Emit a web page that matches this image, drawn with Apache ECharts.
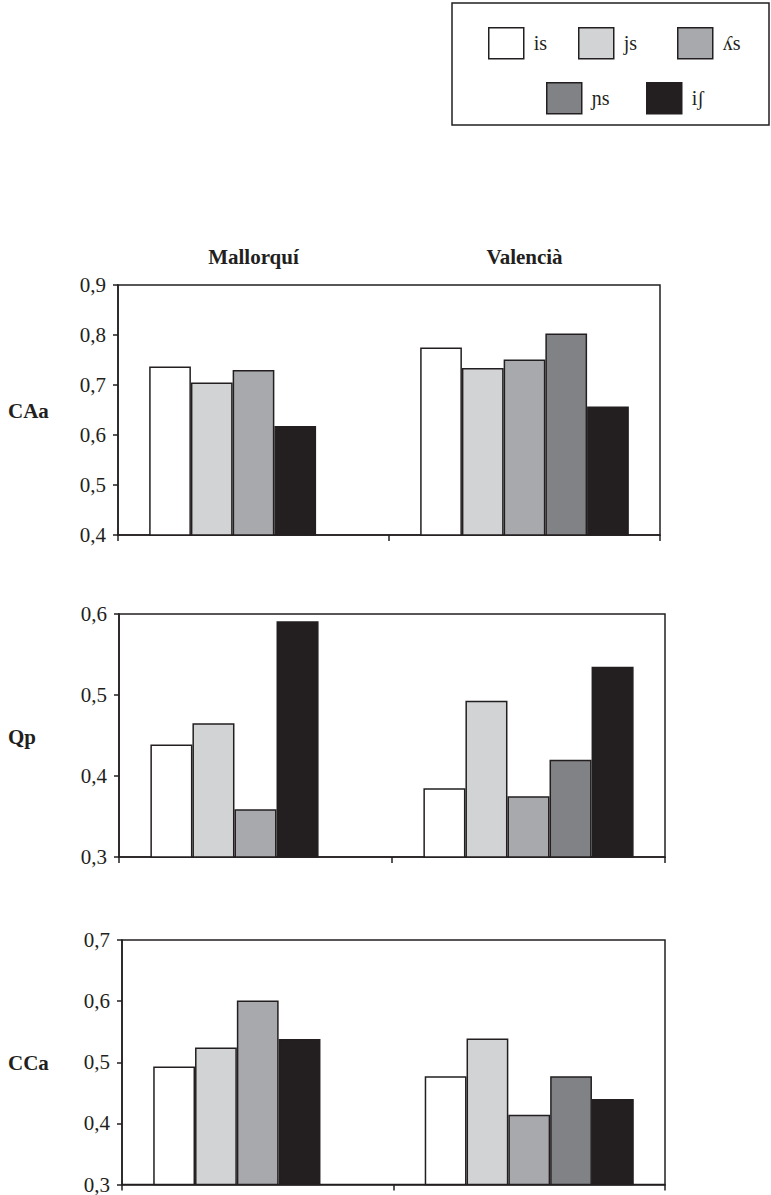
<!DOCTYPE html>
<html>
<head>
<meta charset="utf-8">
<script src="https://cdn.jsdelivr.net/npm/echarts@6/dist/echarts.min.js"></script>
<style>
  html, body { margin: 0; padding: 0; background: #ffffff; }
  #chart { width: 771px; height: 1195px; }
</style>
</head>
<body>
<div id="chart"></div>
<script>
// Dialects (x categories) and sibilant contexts (series)
const categories = ['Mallorquí', 'Valencià'];
const phonemes = ['is', 'js', 'ʎs', 'ɲs', 'iʃ'];
const fills = ['#ffffff', '#d1d3d4', '#a7a9ac', '#808285', '#231f20'];

// Panel names and y ranges
const panelNames = ['CAa', 'Qp', 'CCa'];
const yMins = [0.4, 0.3, 0.3];
const yMaxs = [0.9, 0.6, 0.7];

// Values per dialect, in phoneme order (null = no value)
const caaMallorqui = [0.737, 0.705, 0.730, null, 0.618];
const caaValencia  = [0.775, 0.734, 0.751, 0.803, 0.657];
const qpMallorqui  = [0.439, 0.465, 0.359, null, 0.591];
const qpValencia   = [0.385, 0.493, 0.375, 0.420, 0.535];
const ccaMallorqui = [0.493, 0.524, 0.601, null, 0.538];
const ccaValencia  = [0.477, 0.539, 0.414, 0.477, 0.440];

const panelValues = [
  [caaMallorqui, caaValencia],
  [qpMallorqui, qpValencia],
  [ccaMallorqui, ccaValencia]
];

const INK = '#231f20';
const FONT = 'Liberation Serif';

// Plot boxes for the three panels
const boxes = [
  { left: 118, top: 285, width: 542, height: 250 },
  { left: 119, top: 614, width: 546, height: 243 },
  { left: 122, top: 940, width: 543, height: 246 }
];

const grids = boxes.map(b => ({
  left: b.left, top: b.top, width: b.width, height: b.height,
  show: true, borderColor: INK, borderWidth: 1.5, backgroundColor: 'transparent'
}));

const xAxes = boxes.map((b, i) => ({
  type: 'category', gridIndex: i, data: categories, position: 'bottom',
  axisLine: { show: true, lineStyle: { color: INK, width: 1.5 } },
  axisTick: { show: true, length: 6, lineStyle: { color: INK, width: 1.5 } },
  axisLabel: { show: false }
}));
// dialect names above the first panel
xAxes.push({
  type: 'category', gridIndex: 0, data: categories, position: 'top',
  axisLine: { show: false }, axisTick: { show: false },
  axisLabel: { show: true, margin: 18, fontFamily: FONT, fontSize: 21, fontWeight: 'bold', color: INK }
});

const yAxes = boxes.map((b, i) => ({
  type: 'value', gridIndex: i, min: yMins[i], max: yMaxs[i], interval: 0.1,
  splitLine: { show: false },
  axisLine: { show: true, lineStyle: { color: INK, width: 1.5 } },
  axisTick: { show: true, length: 5, lineStyle: { color: INK, width: 1.5 } },
  axisLabel: {
    margin: 12, fontFamily: FONT, fontSize: 21, color: INK,
    formatter: v => v.toFixed(1).replace('.', ',')
  }
}));

// Bars are packed into consecutive slots per dialect; a missing value leaves the last slot empty
const series = [];
panelValues.forEach((pair, p) => {
  const packed = pair.map(vals => vals.map((v, k) => (v == null ? -1 : k)).filter(k => k >= 0));
  phonemes.forEach((name, slot) => {
    series.push({
      name: name,
      type: 'bar',
      xAxisIndex: p,
      yAxisIndex: p,
      barGap: '0%',
      barCategoryGap: '23%',
      itemStyle: { color: fills[slot], borderColor: INK, borderWidth: 1.5 },
      emphasis: { disabled: true },
      data: pair.map((vals, c) => {
        const k = packed[c][slot];
        if (k === undefined) return null;
        return { value: vals[k], itemStyle: { color: fills[k] } };
      })
    });
  });
});

// Legend: two rows inside a framed box
const legendSpots = [
  { left: 488, top: 27 }, { left: 578, top: 27 }, { left: 677, top: 27 },
  { left: 546, top: 82 }, { left: 646, top: 82 }
];
const legends = phonemes.map((name, i) => ({
  data: [name],
  left: legendSpots[i].left, top: legendSpots[i].top,
  padding: 0, itemWidth: 35, itemHeight: 31, icon: 'rect',
  selectedMode: false,
  itemStyle: { borderColor: INK, borderWidth: 1.5 },
  textStyle: { fontFamily: FONT, fontSize: 20, color: INK, padding: [0, 0, 0, 5] }
}));

const rowLabelY = [411, 737, 1063];
const graphics = [
  {
    type: 'rect', silent: true,
    shape: { x: 452, y: 3, width: 317, height: 122 },
    style: { fill: 'none', stroke: INK, lineWidth: 1.5 }
  }
].concat(panelNames.map((t, i) => ({
  type: 'text', silent: true, x: 8, y: rowLabelY[i],
  style: { text: t, fontFamily: FONT, fontSize: 21, fontWeight: 'bold', fill: INK, align: 'left', verticalAlign: 'middle' }
})));

const chart = echarts.init(document.getElementById('chart'), null, { renderer: 'svg' });
chart.setOption({
  animation: false,
  backgroundColor: '#ffffff',
  grid: grids,
  xAxis: xAxes,
  yAxis: yAxes,
  legend: legends,
  series: series,
  graphic: graphics
});
</script>
</body>
</html>
